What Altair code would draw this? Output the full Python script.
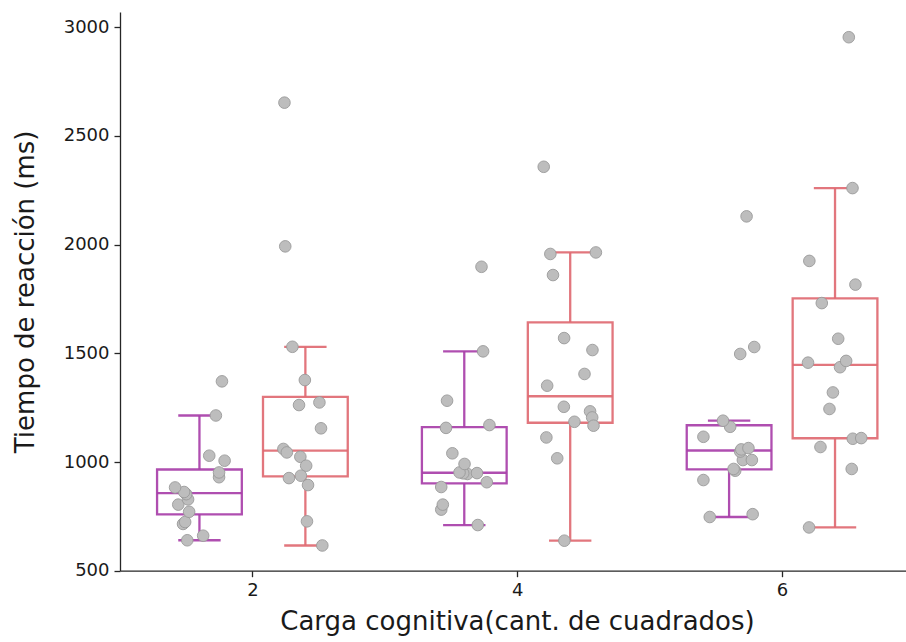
import altair as alt
import pandas as pd

# ---------------- data ----------------
group_labels = ["2", "4", "6"]
cond_names = ["Condición A", "Condición B"]
cond_colors = ["#a83fa9", "#df6a72"]

# reaction times (ms), with horizontal jitter (category units)
a2_vals = [640, 661, 715, 724, 771, 804, 828, 852, 862, 883, 930, 952, 1006, 1029, 1214, 1371]
a2_jit = [-0.046, 0.014, -0.062, -0.054, -0.039, -0.080, -0.043, -0.050, -0.058, -0.092, 0.074, 0.074, 0.095, 0.037, 0.062, 0.085]
b2_vals = [2653, 1992, 1530, 1377, 1274, 1262, 1155, 1060, 1044, 1024, 983, 937, 926, 894, 727, 616]
b2_jit = [-0.079, -0.076, -0.049, -0.002, 0.053, -0.024, 0.059, -0.083, -0.070, -0.019, 0.003, -0.017, -0.062, 0.010, 0.006, 0.064]
a4_vals = [710, 781, 804, 885, 907, 945, 948, 949, 952, 991, 1040, 1157, 1170, 1282, 1509, 1898]
a4_jit = [0.051, -0.087, -0.081, -0.087, 0.085, 0.012, -0.004, 0.048, -0.018, 0.001, -0.045, -0.069, 0.095, -0.065, 0.071, 0.065]
b4_vals = [2358, 1957, 1964, 1860, 1570, 1515, 1405, 1351, 1254, 1233, 1205, 1185, 1167, 1113, 1017, 638]
b4_jit = [-0.100, -0.075, 0.097, -0.065, -0.023, 0.084, 0.054, -0.087, -0.024, 0.075, 0.083, 0.016, 0.088, -0.090, -0.049, -0.022]
a6_vals = [747, 760, 917, 960, 968, 1009, 1009, 1048, 1058, 1064, 1116, 1162, 1190, 1497, 1529, 2130]
a6_jit = [-0.073, 0.089, -0.097, 0.023, 0.017, 0.052, 0.086, 0.042, 0.046, 0.073, -0.097, 0.004, -0.023, 0.042, 0.095, 0.066]
b6_vals = [2954, 2260, 1925, 1816, 1731, 1567, 1457, 1436, 1465, 1320, 1244, 1107, 1110, 1069, 968, 699]
b6_jit = [0.052, 0.066, -0.097, 0.077, -0.050, 0.012, -0.102, 0.019, 0.042, -0.008, -0.021, 0.067, 0.099, -0.055, 0.063, -0.098]

series = [
    (0, cond_names[0], a2_vals, a2_jit), (0, cond_names[1], b2_vals, b2_jit),
    (1, cond_names[0], a4_vals, a4_jit), (1, cond_names[1], b4_vals, b4_jit),
    (2, cond_names[0], a6_vals, a6_jit), (2, cond_names[1], b6_vals, b6_jit),
]
rows = []
for g, c, vals, jit in series:
    for v, j in zip(vals, jit):
        rows.append({"g": g, "cond": c, "value": v, "jitter": j})
df = pd.DataFrame(rows)

# ---------------- styling ----------------
W, H = 786, 558.7
FONT = "DejaVu Sans"
AXC = "#262626"
TXT = "#1a1a1a"

xs = alt.Scale(domain=[-0.5, 2.468], nice=False, zero=False)
ys = alt.Scale(domain=[500, 3070], nice=False, zero=False)
label_expr = "[" + ",".join("'%s'" % s for s in group_labels) + "][datum.value]"
xa = alt.Axis(values=[0, 1, 2], labelExpr=label_expr, grid=False, domainColor=AXC,
              domainWidth=1.3, tickColor=AXC, tickWidth=1.3, tickSize=6,
              labelFont=FONT, labelFontSize=18, labelColor=TXT, labelPadding=5,
              titleFont=FONT, titleFontSize=26, titleFontWeight="normal",
              titleColor=TXT, titlePadding=9, titleX=397)
ya = alt.Axis(values=[500, 1000, 1500, 2000, 2500, 3000], format="d", grid=False,
              domainColor=AXC, domainWidth=1.3, tickColor=AXC, tickWidth=1.3, tickSize=6,
              labelFont=FONT, labelFontSize=18, labelColor=TXT, labelPadding=5,
              titleFont=FONT, titleFontSize=26, titleFontWeight="normal",
              titleColor=TXT, titlePadding=25)
XT = "Carga cognitiva(cant. de cuadrados)"
YT = "Tiempo de reacción (ms)"


def X(f):
    return alt.X(f, type="quantitative", scale=xs, axis=xa, title=XT)


def Y(f):
    return alt.Y(f, type="quantitative", scale=ys, axis=ya, title=YT)


stroke = alt.Stroke("cond:N", scale=alt.Scale(domain=cond_names, range=cond_colors), legend=None)

base = alt.Chart(df).transform_calculate(
    center="datum.g + (datum.cond == '%s' ? -0.2 : 0.2)" % cond_names[0]
)

stats = (
    base.transform_joinaggregate(q1="q1(value)", q3="q3(value)", med="median(value)",
                                 groupby=["g", "cond"])
    .transform_calculate(lo="datum.q1 - 1.5*(datum.q3 - datum.q1)",
                         hi="datum.q3 + 1.5*(datum.q3 - datum.q1)")
    .transform_filter("datum.value >= datum.lo && datum.value <= datum.hi")
    .transform_aggregate(wlo="min(value)", whi="max(value)", bq1="min(q1)",
                         bq3="min(q3)", bmed="min(med)", groupby=["g", "cond", "center"])
    .transform_calculate(bl="datum.center - 0.16", br="datum.center + 0.16",
                         cl="datum.center - 0.08", cr="datum.center + 0.08")
)

LW = 2.3
wl = stats.mark_rule(strokeWidth=LW, opacity=0.92).encode(x=X("center"), y=Y("wlo"), y2="bq1:Q", stroke=stroke)
wh = stats.mark_rule(strokeWidth=LW, opacity=0.92).encode(x=X("center"), y=Y("bq3"), y2="whi:Q", stroke=stroke)
cl = stats.mark_rule(strokeWidth=LW, opacity=0.92).encode(x=X("cl"), x2="cr:Q", y=Y("wlo"), stroke=stroke)
ch = stats.mark_rule(strokeWidth=LW, opacity=0.92).encode(x=X("cl"), x2="cr:Q", y=Y("whi"), stroke=stroke)
box = stats.mark_rect(fillOpacity=0, strokeWidth=LW, strokeOpacity=0.92).encode(
    x=X("bl"), x2="br:Q", y=Y("bq1"), y2="bq3:Q", stroke=stroke)
med = stats.mark_rule(strokeWidth=LW, opacity=0.92).encode(x=X("bl"), x2="br:Q", y=Y("bmed"), stroke=stroke)

pts = base.transform_calculate(px="datum.center + datum.jitter").mark_circle(
    size=135, color="#bdbdbd", opacity=1, stroke="#9a9a9a", strokeWidth=0.9
).encode(x=X("px"), y=Y("value"))

chart = alt.layer(wl, wh, cl, ch, box, med, pts).properties(
    width=W, height=H,
    autosize=alt.AutoSizeParams(type="none"),
    padding={"left": 120, "top": 12, "right": 0, "bottom": 642 - 12 - H},
    background="white",
).configure_view(stroke=None)

chart.save("out.html", embed_options={"renderer": "svg", "actions": False})
